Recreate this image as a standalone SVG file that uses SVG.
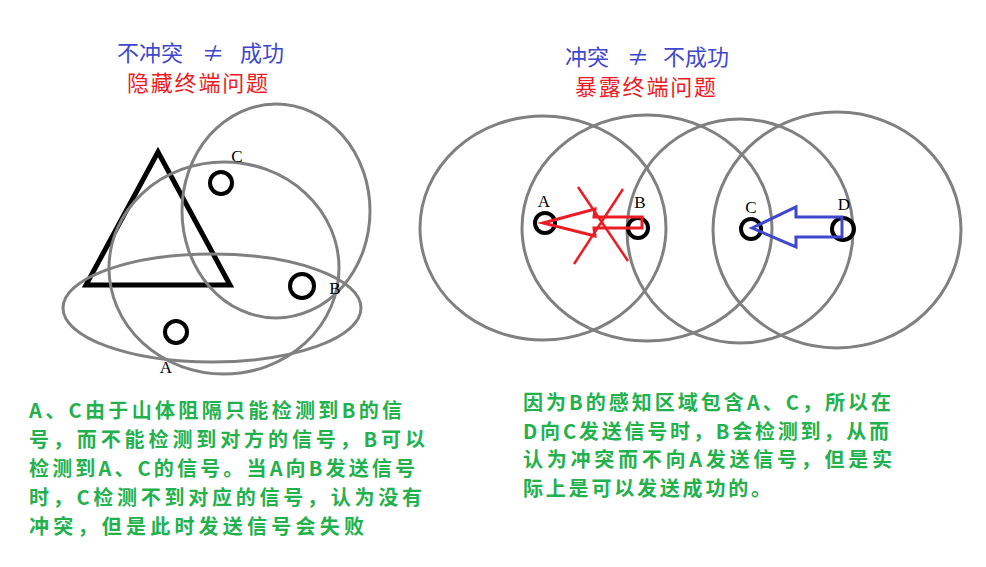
<svg xmlns="http://www.w3.org/2000/svg" width="986" height="567" viewBox="0 0 986 567">
<style>
.range{fill:none;stroke:#808080;stroke-width:3}
.node{fill:none;stroke:#000;stroke-width:4}
.lbl{font-family:"Liberation Serif","DejaVu Serif",serif;font-size:17px;fill:#000;text-anchor:middle}
.blue{font-family:"Noto Sans CJK SC","DejaVu Sans",sans-serif;font-size:22px;fill:#3f48cc}
.red{font-family:"Noto Sans CJK SC","DejaVu Sans",sans-serif;font-size:22px;fill:#ed1c24}
.green{font-family:"Noto Sans CJK SC","DejaVu Sans",sans-serif;font-size:20px;fill:#22b14c;font-weight:bold}
</style>
<rect width="986" height="567" fill="#fff"/>

<g id="left-titles">
<text class="blue" y="61"><tspan x="117">不冲突</tspan><tspan x="202">≠</tspan><tspan x="240">成功</tspan></text>
<text class="red" x="127" y="91" textLength="141" lengthAdjust="spacing">隐藏终端问题</text>
</g>

<g id="mountain">
<polygon points="158,152 86,285 230,285" fill="none" stroke="#000" stroke-width="5" stroke-linejoin="miter"/>
</g>

<g id="ranges-left">
<ellipse class="range" cx="276" cy="211" rx="94" ry="107"/>
<ellipse class="range" cx="224" cy="268" rx="115" ry="106"/>
<ellipse class="range" cx="212" cy="308" rx="149" ry="54"/>
</g>

<g id="node-C-left">
<circle class="node" cx="221" cy="183" r="11"/>
<text class="lbl" x="237" y="162">C</text>
</g>
<g id="node-B-left">
<text class="lbl" x="335" y="294">B</text>
<circle class="node" cx="302" cy="286" r="12"/>
</g>
<g id="node-A-left">
<circle class="node" cx="176" cy="332" r="11"/>
<text class="lbl" x="166" y="373">A</text>
</g>

<g id="right-titles">
<text class="blue" y="65"><tspan x="565">冲突</tspan><tspan x="627">≠</tspan><tspan x="663">不成功</tspan></text>
<text class="red" x="575" y="95" textLength="141" lengthAdjust="spacing">暴露终端问题</text>
</g>

<g id="ranges-right">
<ellipse class="range" cx="543" cy="228" rx="123" ry="112"/>
<ellipse class="range" cx="647" cy="228" rx="125" ry="113"/>
<ellipse class="range" cx="740" cy="231" rx="113" ry="112"/>
<ellipse class="range" cx="837" cy="230" rx="124" ry="118"/>
</g>

<g id="node-A-right">
<circle class="node" cx="545" cy="223" r="10"/>
<text class="lbl" x="544" y="207">A</text>
</g>
<g id="node-B-right">
<circle class="node" cx="638" cy="228" r="10"/>
<text class="lbl" x="640" y="208">B</text>
</g>
<g id="node-C-right">
<circle class="node" cx="751" cy="229" r="10"/>
<text class="lbl" x="751" y="213">C</text>
</g>
<g id="node-D-right">
<circle class="node" cx="843" cy="229" r="11"/>
<text class="lbl" x="844" y="210">D</text>
</g>

<g id="connectors">
<polygon points="543,223 595,209 594,217 642,217 642,228 594,228 595,236" fill="none" stroke="#ed1c24" stroke-width="3" stroke-linejoin="miter"/>
<line x1="578" y1="187" x2="628" y2="261" stroke="#ed1c24" stroke-width="2.5"/>
<line x1="623" y1="189" x2="574" y2="264" stroke="#ed1c24" stroke-width="2.5"/>
<polygon points="752,228 796,207 796,217 842,217 842,237 796,237 796,247" fill="none" stroke="#3f48cc" stroke-width="3" stroke-linejoin="miter"/>
</g>

<g id="text-left">
<text class="green" x="29" y="418" textLength="373" lengthAdjust="spacing">A、C由于山体阻隔只能检测到B的信</text>
<text class="green" x="29" y="447" textLength="396" lengthAdjust="spacing">号，而不能检测到对方的信号，B可以</text>
<text class="green" x="29" y="476" textLength="386" lengthAdjust="spacing">检测到A、C的信号。当A向B发送信号</text>
<text class="green" x="29" y="505" textLength="393" lengthAdjust="spacing">时，C检测不到对应的信号，认为没有</text>
<text class="green" x="29" y="534" textLength="335" lengthAdjust="spacing">冲突，但是此时发送信号会失败</text>
</g>

<g id="text-right">
<text class="green" x="523" y="410" textLength="368" lengthAdjust="spacing">因为B的感知区域包含A、C，所以在</text>
<text class="green" x="523" y="439" textLength="366" lengthAdjust="spacing">D向C发送信号时，B会检测到，从而</text>
<text class="green" x="523" y="467" textLength="369" lengthAdjust="spacing">认为冲突而不向A发送信号，但是实</text>
<text class="green" x="523" y="496" textLength="248" lengthAdjust="spacing">际上是可以发送成功的。</text>
</g>
</svg>
